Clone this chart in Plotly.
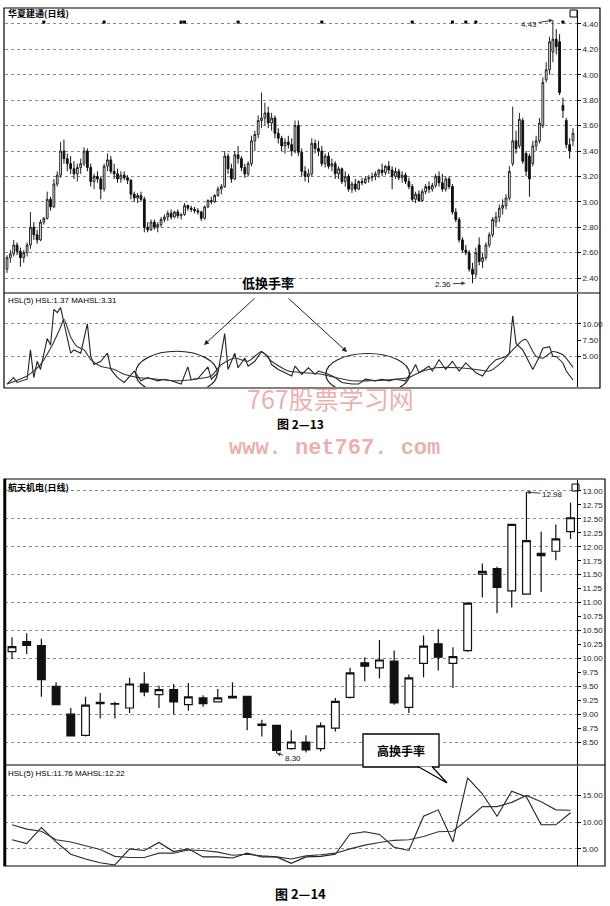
import plotly.graph_objects as go

W, H = 610, 906
def px(x): return x / W
def py(y): return 1 - y / H

# ---------------- Chart 1 : 华夏建通(日线) ----------------
c1_open = [2.47,2.56,2.59,2.66,2.61,2.56,2.60,2.66,2.80,2.74,
           2.70,2.84,2.87,3.02,2.96,3.14,3.21,3.40,3.34,3.30,
           3.26,3.22,3.27,3.30,3.40,3.27,3.16,3.20,3.18,3.10,
           3.28,3.33,3.24,3.22,3.18,3.21,3.19,3.17,3.06,3.03,
           3.05,3.02,2.80,2.78,2.84,2.80,2.82,2.86,2.88,2.91,
           2.88,2.92,2.89,2.90,2.97,2.95,2.94,2.93,2.92,2.87,
           2.96,3.01,3.00,3.05,3.10,3.12,3.36,3.26,3.18,3.37,
           3.34,3.27,3.22,3.30,3.48,3.53,3.64,3.66,3.70,3.62,
           3.66,3.54,3.50,3.44,3.47,3.45,3.40,3.60,3.39,3.24,
           3.20,3.22,3.46,3.42,3.40,3.30,3.36,3.28,3.30,3.22,
           3.26,3.16,3.20,3.10,3.14,3.10,3.16,3.15,3.18,3.19,
           3.20,3.22,3.25,3.23,3.28,3.25,3.20,3.24,3.19,3.21,
           3.16,3.12,3.02,3.06,3.01,3.08,3.12,3.10,3.13,3.20,
           3.15,3.10,3.18,3.12,2.92,2.86,2.70,2.62,2.60,2.47,
           2.43,2.66,2.53,2.56,2.66,2.74,2.84,2.88,2.95,2.97,
           3.03,3.30,3.48,3.44,3.64,3.38,3.36,3.30,3.44,3.48,
           3.60,3.96,4.04,4.18,4.28,4.26,3.76,3.64,3.45,3.48]
c1_high = [2.58,2.62,2.70,2.68,2.64,2.62,2.68,2.92,2.84,2.78,
           2.86,2.88,3.08,3.04,3.18,3.24,3.47,3.49,3.38,3.36,
           3.32,3.30,3.34,3.43,3.42,3.30,3.22,3.24,3.20,3.30,
           3.38,3.36,3.30,3.26,3.24,3.24,3.21,3.18,3.08,3.07,
           3.08,3.04,2.84,2.86,2.86,2.84,2.88,2.90,2.93,2.94,
           2.93,2.94,2.91,2.99,2.98,2.97,2.96,2.95,2.93,2.97,
           3.02,3.04,3.06,3.12,3.14,3.40,3.38,3.30,3.40,3.44,
           3.36,3.30,3.32,3.52,3.56,3.68,3.86,3.78,3.75,3.70,
           3.68,3.58,3.52,3.50,3.52,3.50,3.64,3.64,3.42,3.28,
           3.26,3.50,3.49,3.48,3.44,3.38,3.39,3.34,3.32,3.28,
           3.27,3.24,3.22,3.16,3.18,3.17,3.19,3.20,3.21,3.23,
           3.24,3.26,3.30,3.29,3.32,3.28,3.27,3.26,3.24,3.23,
           3.19,3.14,3.08,3.09,3.10,3.14,3.16,3.15,3.22,3.24,
           3.22,3.20,3.20,3.14,2.95,2.88,2.72,2.66,2.62,2.52,
           2.64,2.72,2.60,2.68,2.76,2.88,2.92,2.98,3.02,3.06,
           3.28,3.75,3.56,3.70,3.66,3.40,3.38,3.48,3.52,3.66,
           3.98,4.10,4.30,4.43,4.36,4.32,3.82,3.66,3.50,3.58]
c1_low = [2.44,2.52,2.57,2.58,2.49,2.52,2.57,2.63,2.70,2.67,
          2.69,2.82,2.86,2.93,2.95,3.12,3.19,3.30,3.24,3.22,
          3.18,3.16,3.22,3.28,3.24,3.12,3.10,3.15,3.02,3.08,
          3.24,3.22,3.18,3.15,3.15,3.17,3.14,3.02,3.00,2.99,
          3.00,2.76,2.76,2.77,2.78,2.76,2.80,2.84,2.85,2.86,
          2.87,2.87,2.86,2.89,2.93,2.92,2.91,2.90,2.85,2.86,
          2.95,2.98,2.99,3.04,3.06,3.11,3.22,3.15,3.17,3.30,
          3.24,3.19,3.20,3.28,3.40,3.50,3.58,3.60,3.58,3.56,
          3.50,3.46,3.40,3.38,3.42,3.36,3.38,3.36,3.20,3.16,
          3.15,3.20,3.38,3.36,3.28,3.27,3.26,3.24,3.18,3.18,
          3.14,3.12,3.08,3.07,3.08,3.09,3.13,3.14,3.15,3.16,
          3.17,3.19,3.20,3.21,3.22,3.10,3.18,3.17,3.15,3.14,
          3.10,3.00,2.99,3.00,3.00,3.06,3.07,3.08,3.11,3.12,
          3.08,3.08,3.10,2.90,2.84,2.68,2.60,2.58,2.45,2.36,
          2.40,2.50,2.48,2.54,2.64,2.72,2.80,2.84,2.90,2.94,
          3.01,3.28,3.38,3.42,3.30,3.20,3.04,3.28,3.40,3.46,
          3.58,3.94,4.00,4.10,4.16,3.84,3.66,3.42,3.34,3.44]
c1_close = [2.56,2.59,2.66,2.61,2.56,2.60,2.66,2.80,2.74,2.70,
            2.84,2.87,3.02,2.96,3.14,3.21,3.40,3.34,3.30,3.26,
            3.22,3.27,3.30,3.40,3.27,3.16,3.20,3.18,3.10,3.28,
            3.33,3.24,3.22,3.18,3.21,3.19,3.17,3.06,3.03,3.05,
            3.02,2.80,2.78,2.84,2.80,2.82,2.86,2.88,2.91,2.88,
            2.92,2.89,2.90,2.97,2.95,2.94,2.93,2.92,2.87,2.96,
            3.01,3.00,3.05,3.10,3.12,3.36,3.26,3.18,3.37,3.34,
            3.27,3.22,3.30,3.48,3.53,3.64,3.66,3.70,3.62,3.66,
            3.54,3.50,3.44,3.47,3.45,3.40,3.60,3.39,3.24,3.20,
            3.22,3.46,3.42,3.40,3.30,3.36,3.28,3.30,3.22,3.26,
            3.16,3.20,3.10,3.14,3.10,3.16,3.15,3.18,3.19,3.20,
            3.22,3.25,3.23,3.28,3.25,3.20,3.24,3.19,3.21,3.16,
            3.12,3.02,3.06,3.01,3.08,3.12,3.10,3.13,3.20,3.15,
            3.10,3.18,3.12,2.92,2.86,2.70,2.62,2.60,2.47,2.43,
            2.60,2.53,2.56,2.66,2.74,2.86,2.88,2.95,2.97,3.03,
            3.24,3.48,3.42,3.65,3.32,3.24,3.18,3.44,3.48,3.62,
            3.94,4.04,4.26,4.28,4.22,3.86,3.72,3.45,3.40,3.54]
c1_days = list(range(len(c1_close)))

c1_price_ticks = [2.40, 2.60, 2.80, 3.00, 3.20, 3.40, 3.60, 3.80, 4.00, 4.20, 4.40]
c1_event_days = [11, 29, 52, 53, 69, 94, 121, 133, 137, 140, 166]
c1_event_level = 4.415

# HSL(5) turnover rate, chart 1 (day index, value)
c1_hsl_day = [0,2,3,6,7,8,9,10,12,13,14,15,16,17,19,20,22,24,25,26,28,30,31,33,35,38,40,42,45,47,
              49,52,54,55,57,60,61,63,65,66,68,69,71,72,74,76,78,79,81,83,85,86,88,90,92,93,96,98,100,103,
              105,107,110,112,114,116,119,121,122,123,126,127,129,131,133,135,137,140,142,144,146,149,150,151,152,154,155,157,159,160,
              162,163,164,166,167,169]
c1_hsl_val = [0.75,1.75,1.0,1.5,6.0,1.75,4.25,3.0,7.75,6.75,12.25,11.75,12.5,10.0,5.5,6.0,5.5,10.0,5.0,3.75,4.25,5.5,3.0,1.75,1.0,2.75,1.25,1.75,1.25,1.5,
              1.25,0.75,3.4,1.4,1.6,3.4,1.5,2.5,8.5,3.0,5.5,3.25,4.75,3.5,4.25,5.75,5.0,3.75,3.0,2.5,2.0,3.5,2.25,3.25,2.25,2.75,2.25,1.75,1.0,0.75,
              0.75,1.5,1.25,1.5,1.25,1.5,1.25,2.75,3.75,2.5,3.5,2.75,4.5,3.0,4.25,2.75,4.0,2.5,2.0,3.5,4.5,5.0,5.5,11.25,7.0,6.0,5.0,3.0,5.0,6.25,
              6.5,5.0,5.0,4.0,2.75,1.37]
c1_ma_day = [0,6,10,13,16,17,19,21,23,25,28,32,35,39,45,50,56,61,64,68,72,76,79,84,89,94,98,103,108,114,
             120,123,128,135,140,144,148,151,154,155,158,160,163,166,169]
c1_ma_val = [0.75,2.0,3.75,6.25,9.5,10.75,8.0,6.5,6.0,4.5,3.5,3.0,2.25,1.75,1.5,1.25,1.5,2.0,3.75,4.75,4.25,5.75,4.25,2.75,2.5,2.25,1.75,1.25,1.25,1.4,
             1.75,2.5,3.25,3.25,3.0,2.75,4.25,6.0,7.5,7.6,5.0,4.75,5.75,5.25,3.31]
c1_hsl_ticks = [5.0, 7.5, 10.0]
c1_hsl_grid = [5.0, 10.0]

# ---------------- Chart 2 : 航天机电(日线) ----------------
c2_open = [10.12,10.30,10.23,9.50,9.00,8.62,9.21,9.19,9.11,9.54,
           9.35,9.44,9.17,9.29,9.22,9.32,9.32,8.82,8.80,8.38,
           8.50,8.38,8.75,9.30,9.92,9.83,9.95,9.12,9.91,10.26,
           9.91,10.14,11.51,11.61,11.21,11.15,11.84,11.92,12.27]
c2_high = [10.38,10.45,10.35,9.57,9.11,9.31,9.38,9.22,9.65,9.75,
           9.51,9.54,9.56,9.34,9.45,9.57,9.33,8.90,8.81,8.71,
           8.62,8.85,9.29,9.83,10.02,10.33,10.14,9.71,10.41,10.52,
           10.20,11.00,11.70,11.64,12.41,12.98,12.27,12.40,12.79]
c2_low = [9.99,10.08,9.31,9.16,8.60,8.60,8.92,8.92,9.02,9.32,
          9.11,9.00,9.06,9.13,9.22,9.28,8.71,8.60,8.30,8.36,
          8.31,8.33,8.69,9.28,9.59,9.64,9.17,9.02,9.66,9.78,
          9.47,10.12,11.09,10.81,10.91,11.14,11.19,11.76,12.14]
c2_close = [10.21,10.23,9.62,9.17,8.61,9.16,9.19,9.18,9.54,9.40,
            9.44,9.22,9.31,9.19,9.29,9.29,8.94,8.80,8.35,8.50,
            8.36,8.79,9.23,9.74,9.86,9.97,9.20,9.65,10.22,10.02,
            10.03,10.99,11.56,11.27,12.40,12.11,11.88,12.14,12.52]
c2_days = list(range(len(c2_close)))
c2_price_labels = [8.50,8.75,9.00,9.25,9.50,9.75,10.00,10.25,10.50,10.75,11.00,11.25,
                   11.50,11.75,12.00,12.25,12.50,12.75,13.00]
c2_price_grid = [8.5,9.0,9.5,10.0,10.5,11.0,11.5,12.0,12.5,13.0]

c2_hsl = [6.7,6.0,9.0,6.3,4.0,3.1,2.4,2.0,5.0,4.7,6.2,4.5,5.0,3.5,3.5,3.3,4.2,3.5,3.5,2.3,
          3.5,3.6,4.0,7.8,8.2,7.7,5.3,4.7,11.1,12.3,6.3,18.3,15.3,11.1,15.8,14.7,9.5,9.5,11.76]
c2_mahsl = [9.5,8.7,8.3,6.7,6.3,5.6,4.9,3.6,3.4,3.4,4.2,4.2,4.8,4.7,4.4,3.8,4.0,3.7,3.5,3.1,
            3.7,3.9,4.2,5.0,5.7,6.2,6.6,6.7,7.3,8.2,8.3,10.5,12.9,12.9,13.7,15.0,13.8,12.3,12.22]
c2_hsl_ticks = [5.0, 10.0, 15.0]

# ---------------- Figure ----------------
fig = go.Figure()

fig.add_trace(go.Candlestick(
    x=c1_days, open=c1_open, high=c1_high, low=c1_low, close=c1_close,
    xaxis="x", yaxis="y", whiskerwidth=0,
    increasing=dict(fillcolor="white", line=dict(color="#222", width=1)),
    decreasing=dict(fillcolor="#111", line=dict(color="#111", width=1)),
    showlegend=False, hoverinfo="skip"))
fig.add_trace(go.Scatter(x=c1_event_days, y=[c1_event_level] * len(c1_event_days),
                         mode="markers", xaxis="x", yaxis="y",
                         marker=dict(symbol="square", size=3, color="black"),
                         showlegend=False, hoverinfo="skip"))
fig.add_trace(go.Scatter(x=c1_hsl_day, y=c1_hsl_val, mode="lines", xaxis="x2", yaxis="y2",
                         line=dict(color="#222", width=1.1), showlegend=False, hoverinfo="skip"))
fig.add_trace(go.Scatter(x=c1_ma_day, y=c1_ma_val, mode="lines", xaxis="x2", yaxis="y2",
                         line=dict(color="#333", width=1.1, shape="spline", smoothing=0.6),
                         showlegend=False, hoverinfo="skip"))

fig.add_trace(go.Candlestick(
    x=c2_days, open=c2_open, high=c2_high, low=c2_low, close=c2_close,
    xaxis="x3", yaxis="y3", whiskerwidth=0,
    increasing=dict(fillcolor="white", line=dict(color="#111", width=1.2)),
    decreasing=dict(fillcolor="#111", line=dict(color="#111", width=1.2)),
    showlegend=False, hoverinfo="skip"))
fig.add_trace(go.Scatter(x=c2_days, y=c2_hsl, mode="lines", xaxis="x4", yaxis="y4",
                         line=dict(color="#222", width=1.1), showlegend=False, hoverinfo="skip"))
fig.add_trace(go.Scatter(x=c2_days, y=c2_mahsl, mode="lines", xaxis="x4", yaxis="y4",
                         line=dict(color="#333", width=1.1), showlegend=False, hoverinfo="skip"))

XD = [px(5), px(577)]
R1 = [-0.6, 170.2]
R2 = [-0.476, 38.44]
TF = dict(family="Liberation Sans Narrow, Liberation Sans, Arial", size=8, color="#222")
GRID = dict(showgrid=True, gridcolor="#8a8a8a", griddash="dot", gridwidth=1)

def xax(anchor, rng):
    return dict(domain=XD, anchor=anchor, range=rng, showticklabels=False, showgrid=False,
                zeroline=False, showline=False, ticks="", rangeslider=dict(visible=False), fixedrange=True)

def yax(anchor, dom, rng, ticks, fmt, grid=True):
    d = dict(domain=dom, anchor=anchor, range=rng, side="right", tickvals=ticks,
             ticktext=[fmt.format(t) for t in ticks], tickfont=TF, ticks="outside", ticklen=3,
             tickcolor="black", showline=True, linecolor="black", linewidth=1, zeroline=False,
             fixedrange=True)
    if grid:
        d.update(GRID)
    else:
        d.update(showgrid=False)
    return d

fig.update_layout(
    width=W, height=H, margin=dict(l=0, r=0, t=0, b=0),
    paper_bgcolor="white", plot_bgcolor="white", boxgap=0.25,
    xaxis=xax("y", R1), xaxis2=xax("y2", R1), xaxis3=xax("y3", R2), xaxis4=xax("y4", R2),
    yaxis=yax("x", [py(292), py(10)], [2.29, 4.51], c1_price_ticks, "{:.2f}"),
    yaxis2=yax("x2", [py(387), py(294)], [0.3, 14.6], c1_hsl_ticks, "{:.2f}", grid=False),
    yaxis3=yax("x3", [py(765), py(480)], [8.088, 13.197], c2_price_labels, "{:.2f}", grid=False),
    yaxis4=yax("x4", [py(866), py(766)], [1.8, 20.5], c2_hsl_ticks, "{:.2f}"),
    yaxis5=dict(overlaying="y2", anchor="x2", side="right", range=[0.3, 14.6], tickvals=c1_hsl_grid,
                showticklabels=False, ticks="", zeroline=False, showline=False, fixedrange=True, **GRID),
    yaxis6=dict(overlaying="y3", anchor="x3", side="right", range=[8.088, 13.197], tickvals=c2_price_grid,
                showticklabels=False, ticks="", zeroline=False, showline=False, fixedrange=True, **GRID),
)
fig.add_trace(go.Scatter(x=[None], y=[None], xaxis="x2", yaxis="y5", showlegend=False, hoverinfo="skip"))
fig.add_trace(go.Scatter(x=[None], y=[None], xaxis="x3", yaxis="y6", showlegend=False, hoverinfo="skip"))

shapes = []
def rect(x0, y0, x1, y1, w=1.2, fill=None):
    s = dict(type="rect", xref="paper", yref="paper", x0=px(x0), x1=px(x1), y0=py(y1), y1=py(y0),
             line=dict(color="black", width=w), layer="above")
    if fill:
        s["fillcolor"] = fill
    shapes.append(s)
def hline(x0, x1, y, w=1.2):
    shapes.append(dict(type="line", xref="paper", yref="paper", x0=px(x0), x1=px(x1), y0=py(y), y1=py(y),
                       line=dict(color="black", width=w), layer="above"))

rect(4, 8, 600, 388)
hline(4, 600, 293)
rect(4, 479, 605, 866)
hline(4, 605, 765)
shapes.append(dict(type="line", xref="paper", yref="paper", x0=px(5), x1=px(5), y0=py(866), y1=py(479),
                   line=dict(color="black", width=2.5), layer="above"))
rect(570, 10, 577, 17, w=1)
rect(572, 484, 579, 491, w=1)
# low-turnover ellipses
shapes.append(dict(type="circle", xref="x2", yref="y2", x0=38.4, x1=62.8, y0=-0.9, y1=5.8,
                   line=dict(color="#222", width=1.2), layer="above"))
shapes.append(dict(type="circle", xref="x2", yref="y2", x0=95.2, x1=120.2, y0=-0.9, y1=5.45,
                   line=dict(color="#222", width=1.2), layer="above"))
# 高换手率 callout
rect(363, 734, 439, 767, w=1.3, fill="white")
shapes.append(dict(type="path", xref="paper", yref="paper",
                   path=f"M {px(418)},{py(766.5)} L {px(447)},{py(783)} L {px(432)},{py(766.5)}",
                   line=dict(color="black", width=1.2), fillcolor="white", layer="above"))
fig.update_layout(shapes=shapes)

CJK = "Noto Sans CJK SC, Noto Sans CJK JP, sans-serif"
ann = []
def text(x, y, s, size=9, color="black", family=CJK, xanchor="left", bold=False):
    ann.append(dict(xref="paper", yref="paper", x=px(x), y=py(y), text=f"<b>{s}</b>" if bold else s,
                    showarrow=False, xanchor=xanchor, yanchor="middle",
                    font=dict(size=size, color=color, family=family)))

text(6, 14, "华夏建通(日线)", size=9, bold=True)
text(6, 300, "HSL(5) HSL:1.37 MAHSL:3.31", size=8, family="Liberation Sans Narrow, Arial Narrow, Liberation Sans")
text(268, 283, "低换手率", size=13, bold=True, xanchor="center")
text(6, 487, "航天机电(日线)", size=9, bold=True)
text(6, 773, "HSL(5) HSL:11.76 MAHSL:12.22", size=8, family="Liberation Sans Narrow, Arial Narrow, Liberation Sans")
text(401, 750, "高换手率", size=12, bold=True, xanchor="center")
text(330, 398, "767股票学习网", size=25, color="rgba(226,120,120,0.6)", xanchor="center")
text(334, 448, "www. net767. com", size=22, color="rgba(226,120,120,0.6)", xanchor="center",
     family="Liberation Mono, DejaVu Sans Mono, monospace", bold=True)
text(300, 424, "图 2—13", size=12, bold=True, xanchor="center")
text(300, 893, "图 2—14", size=13, bold=True, xanchor="center")

ann.append(dict(xref="paper", yref="paper", x=px(204), y=py(345), ax=52, ay=-48, axref="pixel", ayref="pixel",
                text="", showarrow=True, arrowhead=2, arrowsize=1, arrowwidth=1, arrowcolor="#222"))
ann.append(dict(xref="paper", yref="paper", x=px(347), y=py(352), ax=-60, ay=-55, axref="pixel", ayref="pixel",
                text="", showarrow=True, arrowhead=2, arrowsize=1, arrowwidth=1, arrowcolor="#222"))
PF = dict(family="Liberation Sans Narrow, Liberation Sans, Arial", size=8, color="#111")
ann.append(dict(xref="x", yref="y", x=137.5, y=min(c1_low), ax=-24, ay=1, text="2.36", showarrow=True,
                arrowhead=2, arrowsize=0.8, arrowwidth=1, standoff=2, font=PF))
ann.append(dict(xref="x", yref="y", x=c1_high.index(max(c1_high)), y=max(c1_high), ax=-24, ay=4, text="4.43",
                showarrow=True, arrowhead=2, arrowsize=0.8, arrowwidth=1, font=PF))
ann.append(dict(xref="x3", yref="y3", x=c2_high.index(max(c2_high)), y=max(c2_high), ax=26, ay=2, text="12.98",
                showarrow=True, arrowhead=2, arrowsize=0.8, arrowwidth=1, font=PF))
ann.append(dict(xref="x3", yref="y3", x=c2_low.index(min(c2_low)), y=min(c2_low), ax=16, ay=5, text="8.30",
                showarrow=True, arrowhead=2, arrowsize=0.8, arrowwidth=1, font=PF))
fig.update_layout(annotations=ann)

fig.write_html("out.html", config={"displayModeBar": False, "staticPlot": True},
               post_script="document.body.style.margin='0px';document.body.style.overflow='hidden';")
